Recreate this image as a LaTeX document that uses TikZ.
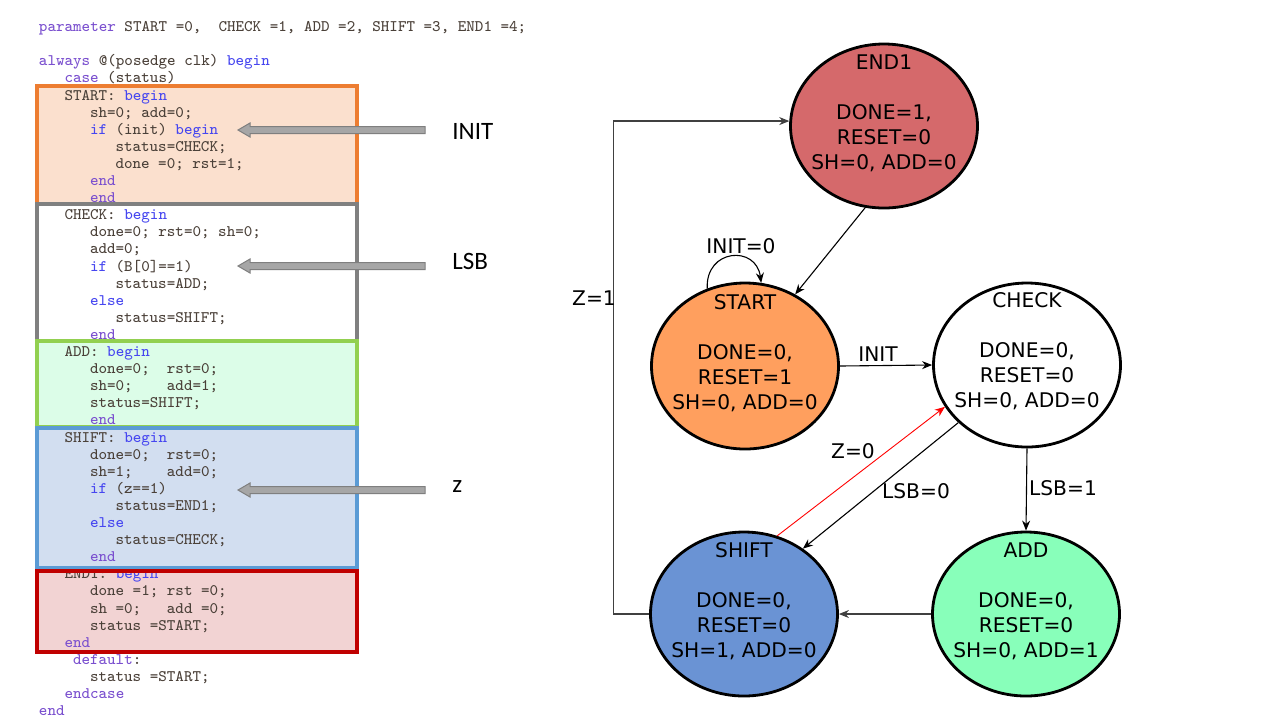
\documentclass[tikz,border=0pt]{standalone}
\usepackage{fontspec}
\setmainfont{DejaVu Sans}
\newfontfamily\notefont{Carlito}
\usetikzlibrary{arrows.meta,shapes.geometric}
\definecolor{codetext}{HTML}{4A4038}
\definecolor{kwa}{HTML}{7A4FCF}
\definecolor{kwb}{HTML}{4646F0}
\definecolor{orfill}{HTML}{FBE0CE}
\definecolor{ordraw}{HTML}{ED7D31}
\definecolor{grdraw}{HTML}{808080}
\definecolor{gnfill}{HTML}{DCFDE8}
\definecolor{gndraw}{HTML}{92D050}
\definecolor{blfill}{HTML}{D2DEF0}
\definecolor{bldraw}{HTML}{5B9BD5}
\definecolor{rdfill}{HTML}{F2D3D3}
\definecolor{rddraw}{HTML}{C00000}
\definecolor{arrfill}{HTML}{A6A6A6}
\definecolor{arrdraw}{HTML}{7F7F7F}
\definecolor{end1fill}{HTML}{D5696B}
\definecolor{startfill}{HTML}{FF9F5E}
\definecolor{shiftfill}{HTML}{6A93D4}
\definecolor{addfill}{HTML}{88FFBA}
\definecolor{zline}{HTML}{404040}
\newcommand\ka[1]{\textcolor{kwa}{#1}}
\newcommand\kb[1]{\textcolor{kwb}{#1}}
\newcommand\cl[3]{\node[codeline] (l#1) at ({39+8.5*#2},{100+17.1*#1}) {#3};}
\begin{document}
\begin{tikzpicture}[x=0.5pt,y=-0.5pt,
  codeline/.style={anchor=base west, inner sep=0, outer sep=0,
    font=\ttfamily\fontsize{8.05}{9}\selectfont\frenchspacing, text=codetext},
  state/.style={ellipse, draw=black, line width=1.4pt, minimum width=93.5pt,
    minimum height=82pt, inner sep=0},
  statetext/.style={align=center, font=\fontsize{10.1}{12.5}\selectfont, inner sep=0},
  lbl/.style={font=\fontsize{10.1}{12.5}\selectfont, inner sep=0},
  conn/.style={line width=0.55pt, -{Stealth[length=5pt,width=4pt,inset=1.6pt]}},
  codebox/.style={line width=1.7pt},
  note/.style={font=\notefont\fontsize{12.5}{15}\selectfont, anchor=base west, inner sep=0},
  blockarrow/.style={fill=arrfill, draw=arrdraw, line width=0.5pt}]
\useasboundingbox[fill=white] (0,0) rectangle (1280,720);

% code box fills
\fill[orfill] (37,86) rectangle (357,204);
\fill[white] (37,204) rectangle (357,341);
\fill[gnfill] (37,341) rectangle (357,427);
\fill[blfill] (37,428) rectangle (357,568);
\fill[rdfill] (37,571) rectangle (357,652);

% code
\cl{-4}{0}{\ka{parameter} START =0,~~CHECK =1, ADD =2, SHIFT =3, END1 =4;}
\cl{-2}{0}{\ka{always} @(posedge clk) \kb{begin}}
\cl{-1}{3}{\ka{case} (status)}
\cl{0}{3}{START: \kb{begin}}
\cl{1}{6}{sh=0; add=0;}
\cl{2}{6}{\kb{if} (init) \kb{begin}}
\cl{3}{9}{status=CHECK;}
\cl{4}{9}{done =0; rst=1;}
\cl{5}{6}{\ka{end}}
\cl{6}{6}{\ka{end}}
\cl{7}{3}{CHECK: \kb{begin}}
\cl{8}{6}{done=0; rst=0; sh=0;}
\cl{9}{6}{add=0;}
\cl{10}{6}{\kb{if} (B[0]==1)}
\cl{11}{9}{status=ADD;}
\cl{12}{6}{\kb{else}}
\cl{13}{9}{status=SHIFT;}
\cl{14}{6}{\ka{end}}
\cl{15}{3}{ADD: \kb{begin}}
\cl{16}{6}{done=0;~~rst=0;}
\cl{17}{6}{sh=0;~~~~add=1;}
\cl{18}{6}{status=SHIFT;}
\cl{19}{6}{\ka{end}}
\cl{20}{3}{SHIFT: \kb{begin}}
\cl{21}{6}{done=0;~~rst=0;}
\cl{22}{6}{sh=1;~~~~add=0;}
\cl{23}{6}{\kb{if} (z==1)}
\cl{24}{9}{status=END1;}
\cl{25}{6}{\kb{else}}
\cl{26}{9}{status=CHECK;}
\cl{27}{6}{\ka{end}}
\cl{28}{3}{END1: \kb{begin}}
\cl{29}{6}{done =1; rst =0;}
\cl{30}{6}{sh =0;~~~add =0;}
\cl{31}{6}{status =START;}
\cl{32}{3}{\ka{end}}
\cl{33}{4}{\ka{default}:}
\cl{34}{6}{status =START;}
\cl{35}{3}{\ka{endcase}}
\cl{36}{0}{\ka{end}}

% code box borders
\draw[codebox, draw=ordraw] (37,86) rectangle (357,204);
\draw[codebox, draw=grdraw] (37,204) rectangle (357,341);
\draw[codebox, draw=gndraw] (37,341) rectangle (357,427);
\draw[codebox, draw=bldraw] (37,428) rectangle (357,568);
\draw[codebox, draw=rddraw] (37,571) rectangle (357,652);

% grey block arrows and notes
\draw[blockarrow] (425,126.5) -- (250,126.5) -- (250,123) -- (238,130) -- (250,137) -- (250,133.5) -- (425,133.5) -- cycle;
\draw[blockarrow] (425,262.5) -- (250,262.5) -- (250,259) -- (238,266) -- (250,273) -- (250,269.5) -- (425,269.5) -- cycle;
\draw[blockarrow] (425,486.5) -- (250,486.5) -- (250,483) -- (238,490) -- (250,497) -- (250,493.5) -- (425,493.5) -- cycle;
\node[note] (n1) at (452,139) {INIT};
\node[note] (n2) at (452,269) {LSB};
\node[note] (n3) at (452,492) {z};

% states
\node[state, fill=end1fill] (end1) at (884,126) {};
\node[state, fill=startfill, minimum height=83pt] (start) at (745,366) {};
\node[state, fill=white] (check) at (1027,365) {};
\node[state, fill=shiftfill] (shift) at (744,614) {};
\node[state, fill=addfill] (add) at (1026,614) {};

\node[statetext] (end1t) at (884,113) {END1\\[12.5pt]DONE=1,\\RESET=0\\SH=0, ADD=0};
\node[statetext] (startt) at (745,353) {START\\[12.5pt]DONE=0,\\RESET=1\\SH=0, ADD=0};
\node[statetext] (checkt) at (1027,351) {CHECK\\[12.5pt]DONE=0,\\RESET=0\\SH=0, ADD=0};
\node[statetext] (shiftt) at (744,601) {SHIFT\\[12.5pt]DONE=0,\\RESET=0\\SH=1, ADD=0};
\node[statetext] (addt) at (1026,601) {ADD\\[12.5pt]DONE=0,\\RESET=0\\SH=0, ADD=1};

% connectors
\draw[conn] (end1.257) -- (start.55);
\draw[conn] (start.116) .. controls +(-2,-40) and +(-5,-38) .. (start.79);
\draw[conn] (start.east) -- (check.west);
\draw[conn] (check.south) -- (add.north);
\draw[conn] (check.220) -- (shift.48);
\draw[conn, draw=red, line width=0.45pt] (shift.67) -- (check.207);
\draw[conn, draw=zline] (add.west) -- (shift.east);
\draw[conn, draw=zline] (shift.west) -- ++(-36,0) |- (end1.177);

% labels
\node[lbl] (linit0) at (741,246) {INIT=0};
\node[lbl] (linit) at (878,354) {INIT};
\node[lbl] (llsb1) at (1063,488) {LSB=1};
\node[lbl] (llsb0) at (916,491) {LSB=0};
\node[lbl] (lz0) at (853,451) {Z=0};
\node[lbl] (lz1) at (594,298) {Z=1};
\end{tikzpicture}
\end{document}
